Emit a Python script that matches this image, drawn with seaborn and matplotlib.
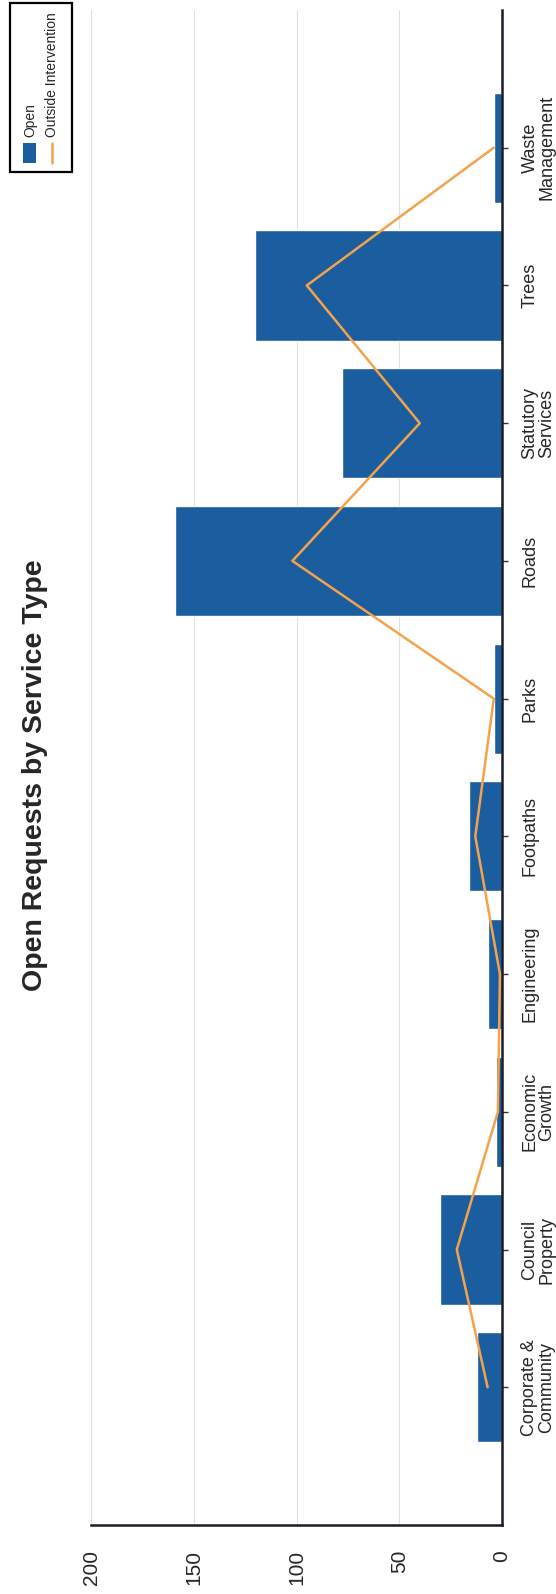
import numpy as np
import pandas as pd
import matplotlib
matplotlib.use("Agg")
import matplotlib.pyplot as plt
import seaborn as sns
from matplotlib.patches import Rectangle
from matplotlib.lines import Line2D

categories = ["Corporate &\nCommunity", "Council\nProperty", "Economic\nGrowth",
              "Engineering", "Footpaths", "Parks", "Roads", "Statutory\nServices",
              "Trees", "Waste\nManagement"]
open_vals = [12, 30, 3, 7, 16, 4, 159, 78, 120, 4]
outside_vals = [7, 22, 2, 1, 13, 4, 102, 40, 95, 4]
value_ticks = [0, 50, 100, 150, 200]
title = "Open Requests by Service Type"
legend_labels = ["Open", "Outside Intervention"]

BLUE = "#1a5e9f"
ORANGE = "#f5a24a"
NARROW = ["Liberation Sans Narrow", "Liberation Sans", "DejaVu Sans"]

sns.set_style("white")
plt.rcParams["font.family"] = ["Liberation Sans", "DejaVu Sans"]

W, H = 556, 1594
fig = plt.figure(figsize=(W/100, H/100), dpi=100)
ax = fig.add_axes([91/W, (H-1525)/H, (502-91)/W, (1525-10)/H])

# top-to-bottom order on the rotated category axis
order = categories[::-1]
df = pd.DataFrame({"cat": categories, "open": open_vals, "outside": outside_vals})
sns.barplot(data=df, y="cat", x="open", order=order, orient="h",
            color=BLUE, saturation=1, width=0.8, ax=ax, zorder=2)
pos = [order.index(c) for c in categories]
ax.plot(outside_vals, pos, color=ORANGE, lw=1.8, zorder=3)

ax.set_xlim(200, 0)
ax.set_ylim(10, -1)
ax.set_xticks(value_ticks)
ax.set_xticklabels([str(v) for v in value_ticks], rotation=90, fontsize=15,
                   va="top", ha="center")
ax.xaxis.grid(True, color="#e0e0e0", lw=0.8, zorder=0)
ax.yaxis.grid(False)
ax.set_axisbelow(True)

ax.yaxis.tick_right()
ax.set_yticks(range(len(order)))
ax.set_yticklabels(order, rotation=90, va="center", ha="left",
                   multialignment="center", linespacing=1.0)
for t in ax.get_yticklabels():
    t.set_fontfamily(NARROW)
    t.set_fontsize(13)
ax.tick_params(axis="y", direction="out", length=4, width=1, color="#333333", pad=10)
ax.tick_params(axis="x", direction="out", length=9, width=1, color="#333333", pad=9)
ax.set_xlabel("")
ax.set_ylabel("")

for s in ["left", "top"]:
    ax.spines[s].set_visible(False)
for s in ["right", "bottom"]:
    ax.spines[s].set_visible(True)
    ax.spines[s].set_color("#1a1a2a")
    ax.spines[s].set_linewidth(1.8)

fig.text(35/W, 1 - 775/H, title, rotation=90, fontsize=20.5, fontweight="bold",
         ha="center", va="center")

# legend (rotated with the chart)
fig.patches.append(Rectangle((10/W, 1 - 172/H), 62/W, 169/H, transform=fig.transFigure,
                             fill=False, edgecolor="black", lw=1.6))
fig.patches.append(Rectangle((23/W, 1 - 163/H), 13/W, 20/H, transform=fig.transFigure,
                             facecolor=BLUE, edgecolor="none"))
fig.lines.append(Line2D([52/W, 52/W], [1 - 163/H, 1 - 143/H], transform=fig.transFigure,
                        color=ORANGE, lw=1.8))
fig.text(30/W, 1 - 137/H, legend_labels[0], rotation=90, fontsize=10,
         ha="center", va="bottom", family=NARROW)
fig.text(52/W, 1 - 137/H, legend_labels[1], rotation=90, fontsize=10,
         ha="center", va="bottom", family=NARROW)

fig.savefig("out.png", dpi=100)
